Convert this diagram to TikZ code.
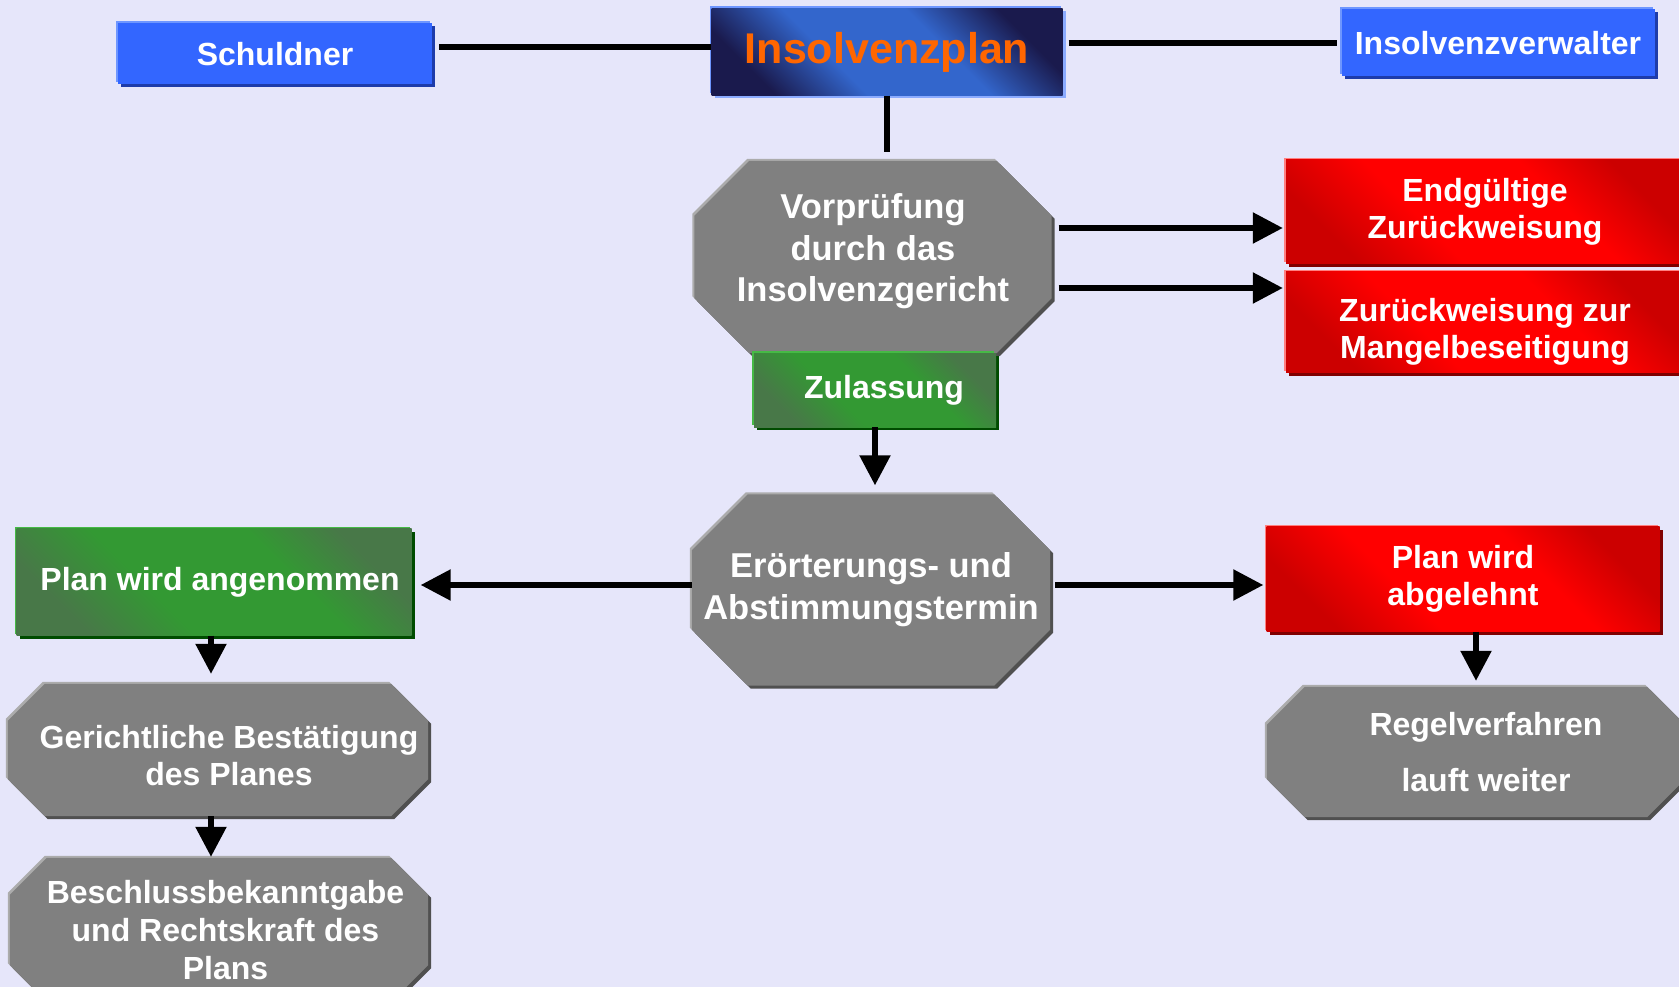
\documentclass[tikz,border=0pt]{standalone}
\usepackage{fontspec}
\setmainfont{Liberation Sans}
\usetikzlibrary{arrows.meta,shadows,backgrounds}
\definecolor{bgcol}{RGB}{230,230,250}
\definecolor{blueA}{RGB}{51,102,255}
\definecolor{blueL}{RGB}{110,150,255}
\definecolor{blueD}{RGB}{30,60,170}
\definecolor{navyD}{RGB}{26,26,77}
\definecolor{navyL}{RGB}{51,102,204}
\definecolor{grayF}{RGB}{128,128,128}
\definecolor{grayL}{RGB}{172,172,172}
\definecolor{grayD}{RGB}{80,80,80}
\definecolor{greenF}{RGB}{51,153,51}
\definecolor{greenD}{RGB}{72,120,72}
\definecolor{redF}{RGB}{255,0,0}
\definecolor{redD}{RGB}{204,0,0}
\definecolor{orangeT}{RGB}{255,102,0}
\pgfdeclareverticalshading{navyband}{100bp}{color(0bp)=(navyD); color(25bp)=(navyD);
	color(40bp)=(navyL); color(60bp)=(navyL); color(75bp)=(navyD); color(100bp)=(navyD)}
\pgfdeclareverticalshading{greenband}{100bp}{color(0bp)=(greenD); color(25bp)=(greenD);
	color(40bp)=(greenF); color(62bp)=(greenF); color(75bp)=(greenD); color(100bp)=(greenD)}
\pgfdeclareverticalshading{redband}{100bp}{color(0bp)=(redD); color(25bp)=(redD);
	color(40bp)=(redF); color(62bp)=(redF); color(75bp)=(redD); color(100bp)=(redD)}
\begin{document}
\begin{tikzpicture}[
		x=1pt, y=-1pt,
		every node/.style={text=white, align=center, inner sep=0pt},
		edges/.style={general shadow={shadow xshift=-2pt, shadow yshift=2pt, fill=#1}},
		sunk/.style={general shadow={shadow xshift=3pt, shadow yshift=-3pt, fill=#1}},
		bluebox/.style={rectangle, fill=blueA, edges=blueL, sunk=blueD,
				font=\fontsize{32}{38}\selectfont\bfseries},
		planbox/.style={rectangle, shade, shading=navyband, shading angle=-45,
				edges=blueL, sunk=blueL!80, text=orangeT, font=\fontsize{43}{50}\selectfont\bfseries},
		greenbox/.style={rectangle, shade, shading=greenband, shading angle=-45,
				edges=green!45!gray, sunk=green!30!black, font=\fontsize{32}{37}\selectfont\bfseries},
		redbox/.style={rectangle, shade, shading=redband, shading angle=-45,
				edges=red!50, sunk=red!50!black, font=\fontsize{32}{37}\selectfont\bfseries},
		octa/.style={rectangle, font=\fontsize{32}{37}\selectfont\bfseries},
		line/.style={line width=5.5pt},
		arr/.style={line, -{Triangle[length=30pt,width=30pt]}}
	]
	\useasboundingbox (0,0) rectangle (1679,987);

	\node[bluebox, minimum width=314pt, minimum height=61pt] (schuld) at (275,54) {Schuldner};
	\node[planbox, minimum width=351pt, minimum height=87pt] (plan) at (887,52) {Insolvenzplan};
	\node[bluebox, minimum width=313pt, minimum height=67pt] (verw) at (1498,43) {Insolvenzverwalter};

	\node[octa, minimum width=357pt, minimum height=192pt,
		font=\fontsize{34.5}{41.5}\selectfont\bfseries] (vor) at (873,257)
		{Vorprüfung\\durch das\\Insolvenzgericht\rule[-18pt]{0pt}{18pt}};
	\node[greenbox, minimum width=242pt, minimum height=74pt] (zul) at (875,390) {\hspace*{18pt}Zulassung};
	\node[redbox, minimum width=398pt, minimum height=104pt] (endg) at (1485,212) {Endgültige\\Zurückweisung};
	\node[redbox, minimum width=398pt, minimum height=101pt] (mangel) at (1485,322)
		{\rule{0pt}{43pt}Zurückweisung zur\\Mangelbeseitigung};

	\node[octa, minimum width=358pt, minimum height=191pt,
		font=\fontsize{34.5}{42}\selectfont\bfseries] (eroe) at (871,590)
		{Erörterungs- und\\Abstimmungstermin};
	\node[greenbox, minimum width=395pt, minimum height=107pt] (angen) at (214,582)
		{\hspace*{12pt}Plan wird angenommen};
	\node[redbox, minimum width=393pt, minimum height=105pt] (abgel) at (1463,579) {Plan wird\\abgelehnt};

	\node[octa, minimum width=420pt, minimum height=132pt] (gericht) at (218,750)
		{\rule{0pt}{35pt}\hspace*{22pt}Gerichtliche Bestätigung\\\hspace*{22pt}des Planes};
	\node[octa, minimum width=418pt, minimum height=144pt, font=\fontsize{32}{38}\selectfont\bfseries]
		(beschl) at (219,930)
		{\hspace*{13pt}Beschlussbekanntgabe\\\hspace*{13pt}und Rechtskraft des\\\hspace*{13pt}Plans};
	\node[octa, minimum width=418pt, minimum height=130pt] (regel) at (1476,752)
		{\hspace*{20pt}Regelverfahren\\[19pt]\hspace*{20pt}lauft weiter};

	\begin{pgfonlayer}{background}
		\fill[bgcol] (0,0) rectangle (1679,987);
		\foreach \n/\k in {vor/55, eroe/56, gericht/37, beschl/37, regel/38}
		\fill[grayF, edges=grayL, sunk=grayD]
			([xshift=\k pt]\n.north west) -- ([xshift=-\k pt]\n.north east)
			-- ([yshift=-\k pt]\n.north east) -- ([yshift=\k pt]\n.south east)
			-- ([xshift=-\k pt]\n.south east) -- ([xshift=\k pt]\n.south west)
			-- ([yshift=\k pt]\n.south west) -- ([yshift=-\k pt]\n.north west) -- cycle;
	\end{pgfonlayer}

	\draw[line, shorten <=7pt] ([yshift=7pt]schuld.east) -- ([yshift=7pt]schuld.east -| plan.west);
	\draw[line, shorten <=6pt, shorten >=4pt] (plan.east |- verw.west) -- (verw.west);
	\draw[line, shorten >=9pt] (plan.south) -- (plan.south |- vor.north);
	\draw[arr, shorten <=7pt, shorten >=3pt] ([yshift=29pt]vor.east) -- ([yshift=29pt]vor.east -| endg.west);
	\draw[arr, shorten <=7pt, shorten >=3pt] ([yshift=-31pt]vor.east) -- ([yshift=-31pt]vor.east -| mangel.west);
	\draw[arr, shorten >=9pt] (zul.south) -- (zul.south |- eroe.north);
	\draw[arr, shorten >=9pt] ([yshift=5pt]eroe.west) -- ([yshift=5pt]eroe.west -| angen.east);
	\draw[arr, shorten <=5pt, shorten >=3pt] ([yshift=5pt]eroe.east) -- ([yshift=5pt]eroe.east -| abgel.west);
	\draw[arr, shorten >=10pt] ([xshift=-3pt]angen.south) -- ([xshift=-3pt]angen.south |- gericht.north);
	\draw[arr, shorten >=1pt] ([xshift=-7pt]gericht.south) -- ([xshift=-7pt]gericht.south |- beschl.north);
	\draw[arr, shorten >=6pt] (regel.north |- abgel.south) -- (regel.north);
\end{tikzpicture}
\end{document}
